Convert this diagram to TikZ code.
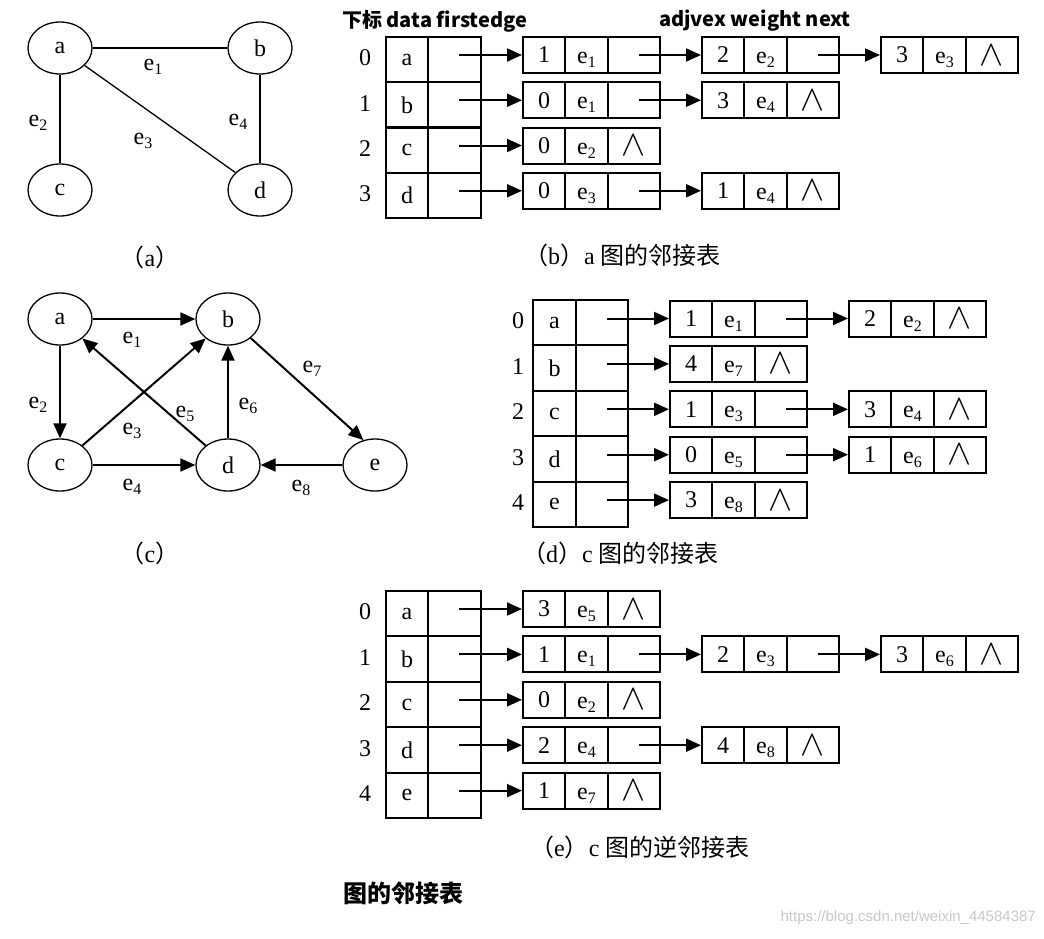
\documentclass[tikz,border=0pt]{standalone}
\usepackage{fontspec}
\setmainfont{Liberation Serif}
\setsansfont{Liberation Sans}
\newfontfamily\cjk{Noto Sans CJK SC}
\usetikzlibrary{shapes.geometric,arrows.meta}

\newcommand\ee[1]{e\raisebox{-4pt}[0pt][0pt]{\fontsize{16}{16}\selectfont #1}}
\newcommand\nul{\scalebox{1.45}{$\wedge$}}

\begin{document}
\begin{tikzpicture}[x=1pt, y=-1pt,
    vtx/.style = {draw, ellipse, line width=1.3pt, minimum width=64pt, minimum height=52pt, inner sep=0pt, font=\fontsize{24}{24}\selectfont},
    lbl/.style = {inner sep=0pt, font=\fontsize{24}{24}\selectfont},
    vcell/.style = {draw, line width=2pt, inner sep=0pt, minimum height=45.3pt, font=\fontsize{24}{24}\selectfont},
    cell/.style = {draw, line width=2pt, inner sep=0pt, minimum height=36pt, font=\fontsize{24}{24}\selectfont},
    wcell/.style = {cell, minimum width=43pt, text height=17pt, text depth=0pt},
    link/.style = {line width=1.3pt},
    arr/.style = {line width=2pt, -{Triangle[length=15pt, width=13pt]}},
    captxt/.style = {inner sep=0pt, anchor=west, font=\fontsize{24}{24}\selectfont},
    head/.style = {inner sep=0pt, anchor=west, font=\cjk\bfseries\fontsize{20}{20}\selectfont}]

  \useasboundingbox (0,0) rectangle (1044,938);

  % graph (a)
  \node[vtx] (ua) at (60,48) {a};
  \node[vtx] (ub) at (260,48) {b};
  \node[vtx] (uc) at (60,190) {c};
  \node[vtx] (ud) at (260,190) {d};
  \draw[link] (ua) -- (ub);
  \draw[link] (ua) -- (uc);
  \draw[link] (ua) -- (ud);
  \draw[link] (ub) -- (ud);
  \node[lbl] (ue1) at (153,65) {\ee1};
  \node[lbl] (ue2) at (38,121) {\ee2};
  \node[lbl] (ue3) at (143,139) {\ee3};
  \node[lbl] (ue4) at (238,120) {\ee4};
  \node[lbl] (capa) at (150,257) {{\cjk （}a{\cjk ）}};

  % graph (c)
  \node[vtx] (da) at (60,319) {a};
  \node[vtx] (db) at (228,319) {b};
  \node[vtx] (dc) at (60,465) {c};
  \node[vtx] (dd) at (228,465) {d};
  \node[vtx] (de) at (375,465) {e};
  \draw[arr] (da) -- (db);
  \draw[arr] (da) -- (dc);
  \draw[arr] (dc) -- (db);
  \draw[arr] (dc) -- (dd);
  \draw[arr] (dd) -- (da);
  \draw[arr] (dd) -- (db);
  \draw[arr] (db.-40) -- (de.115);
  \draw[arr] (de) -- (dd);
  \node[lbl] (de1) at (132,338) {\ee1};
  \node[lbl] (de2) at (38,403) {\ee2};
  \node[lbl] (de3) at (132,429) {\ee3};
  \node[lbl] (de4) at (132,485) {\ee4};
  \node[lbl] (de5) at (185,412) {\ee5};
  \node[lbl] (de6) at (248,404) {\ee6};
  \node[lbl] (de7) at (312,367) {\ee7};
  \node[lbl] (de8) at (301,486) {\ee8};
  \node[lbl] (capc) at (150,553) {{\cjk （}c{\cjk ）}};

  % (b) adjacency list of (a)
  \node[head] (hd1) at (342,21) {下标 data firstedge};
  \node[head] (hd2) at (659,21) {adjvex weight next};
  \foreach \row/\v in {0/a,1/b,2/c,3/d}{
    \node[lbl] (bi\row) at (365,{58+45.25*\row}) {\row};
    \node[vcell, minimum width=42pt] (bd\row) at (407,{59.6+45.25*\row}) {\v};
    \node[vcell, minimum width=53pt] (bf\row) at (454.5,{59.6+45.25*\row}) {};
  }
  \foreach \row/\col/\adj/\wt/\nx in {0/0/1/1/\relax, 0/1/2/2/\relax, 0/2/3/3/\nul,
      1/0/0/1/\relax, 1/1/3/4/\nul, 2/0/0/2/\nul, 3/0/0/3/\relax, 3/1/1/4/\nul}{
    \pgfmathsetmacro\xx{523+179*\col}
    \pgfmathsetmacro\yy{55+45.25*\row}
    \node[cell, minimum width=42pt] (b\row\col a) at (\xx+21,\yy) {\adj};
    \node[wcell] (b\row\col w) at (\xx+63.5,\yy) {\ee\wt};
    \node[cell, minimum width=52pt] (b\row\col n) at (\xx+111,\yy) {\nx};
    \ifnum\col=0
      \draw[arr, shorten <=4.5pt] (b\row\col a.west -| bf\row.center) -- (b\row\col a.west);
    \else
      \pgfmathtruncatemacro\prv{\col-1}
      \draw[arr, shorten <=5pt] (b\row\col a.west -| b\row\prv n.center) -- (b\row\col a.west);
    \fi
  }
  \node[captxt] (capb) at (524,255) {{\cjk （}b{\cjk ）}a {\cjk 图的邻接表}};

  % (d) adjacency list of (c)
  \foreach \row/\v in {0/a,1/b,2/c,3/d,4/e}{
    \node[lbl] (di\row) at (518,{321+45.4*\row}) {\row};
    \node[vcell, minimum width=43pt] (dd\row) at (554.5,{322.7+45.4*\row}) {\v};
    \node[vcell, minimum width=52pt] (df\row) at (602,{322.7+45.4*\row}) {};
  }
  \foreach \row/\col/\adj/\wt/\nx in {0/0/1/1/\relax, 0/1/2/2/\nul, 1/0/4/7/\nul,
      2/0/1/3/\relax, 2/1/3/4/\nul, 3/0/0/5/\relax, 3/1/1/6/\nul, 4/0/3/8/\nul}{
    \pgfmathsetmacro\xx{670+179*\col}
    \pgfmathsetmacro\yy{318.5+45.4*\row}
    \node[cell, minimum width=42pt] (d\row\col a) at (\xx+21,\yy) {\adj};
    \node[wcell] (d\row\col w) at (\xx+63.5,\yy) {\ee\wt};
    \node[cell, minimum width=52pt] (d\row\col n) at (\xx+111,\yy) {\nx};
    \ifnum\col=0
      \draw[arr, shorten <=5pt] (d\row\col a.west -| df\row.center) -- (d\row\col a.west);
    \else
      \pgfmathtruncatemacro\prv{\col-1}
      \draw[arr, shorten <=5pt] (d\row\col a.west -| d\row\prv n.center) -- (d\row\col a.west);
    \fi
  }
  \node[captxt] (capd) at (522,553) {{\cjk （}d{\cjk ）}c {\cjk 图的邻接表}};

  % (e) inverse adjacency list of (c)
  \foreach \row/\v in {0/a,1/b,2/c,3/d,4/e}{
    \node[lbl] (ei\row) at (365,{612+45.4*\row}) {\row};
    \node[vcell, minimum width=42pt] (ed\row) at (407,{613.7+45.4*\row}) {\v};
    \node[vcell, minimum width=53pt] (ef\row) at (454.5,{613.7+45.4*\row}) {};
  }
  \foreach \row/\col/\adj/\wt/\nx in {0/0/3/5/\nul, 1/0/1/1/\relax, 1/1/2/3/\relax, 1/2/3/6/\nul,
      2/0/0/2/\nul, 3/0/2/4/\relax, 3/1/4/8/\nul, 4/0/1/7/\nul}{
    \pgfmathsetmacro\xx{523+179*\col}
    \pgfmathsetmacro\yy{609+45.4*\row}
    \node[cell, minimum width=42pt] (e\row\col a) at (\xx+21,\yy) {\adj};
    \node[wcell] (e\row\col w) at (\xx+63.5,\yy) {\ee\wt};
    \node[cell, minimum width=52pt] (e\row\col n) at (\xx+111,\yy) {\nx};
    \ifnum\col=0
      \draw[arr, shorten <=4.5pt] (e\row\col a.west -| ef\row.center) -- (e\row\col a.west);
    \else
      \pgfmathtruncatemacro\prv{\col-1}
      \draw[arr, shorten <=5pt] (e\row\col a.west -| e\row\prv n.center) -- (e\row\col a.west);
    \fi
  }
  \node[captxt] (cape) at (530,847) {{\cjk （}e{\cjk ）}c {\cjk 图的逆邻接表}};

  \node[head, font=\cjk\bfseries\fontsize{24}{24}\selectfont] (title) at (343,893) {图的邻接表};
  \node[inner sep=0pt, anchor=east, text=black!22, font=\sffamily\fontsize{15}{15}\selectfont] (wm) at (1036,918) {https://blog.csdn.net/weixin\_44584387};
\end{tikzpicture}
\end{document}
